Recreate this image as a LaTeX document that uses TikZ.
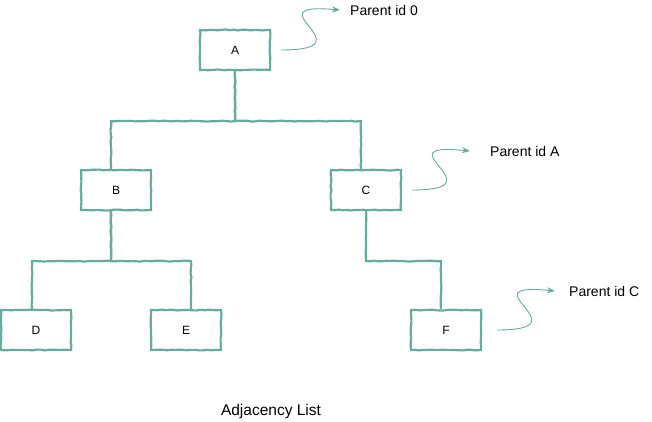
\documentclass[tikz,border=0pt]{standalone}
\usepackage{fontspec}
\setmainfont{Liberation Sans}
\usetikzlibrary{arrows.meta,decorations.pathmorphing}
\definecolor{teal}{HTML}{67AB9F}
\tikzset{
  sketch/.style={decorate, decoration={random steps, segment length=4pt, amplitude=0.45pt}},
  box/.style={draw=teal, line width=2.2pt, sketch, minimum width=70pt, minimum height=40pt, inner sep=0pt, font=\fontsize{12}{14}\selectfont},
  tree/.style={draw=teal, line width=2.2pt, sketch},
  curl/.style={draw=teal, line width=0.9pt, -{Stealth[length=8pt, width=6pt]}},
  lbl/.style={anchor=west, inner sep=0pt, font=\fontsize{14}{16}\selectfont}
}
\begin{document}
\begin{tikzpicture}[x=1pt, y=-1pt]
\pgfmathsetseed{7}
\useasboundingbox (0,0) rectangle (652,421);
\foreach \n/\x/\y in {A/235/50, B/116/190, C/366/190, D/36/330, E/186/330, F/446/330}
    \node[box] (\n) at (\x,\y) {\n};
% tree edges
\draw[tree] (A.south) -- ++(0,50) -| ([xshift=-5pt]B.north);
\draw[tree] (A.south) -- ++(0,50) -| ([xshift=-5pt]C.north);
\draw[tree] ([xshift=-5pt]B.south) -- ++(0,50) -| ([xshift=-4pt]D.north);
\draw[tree] ([xshift=-5pt]B.south) -- ++(0,50) -| ([xshift=5pt]E.north);
\draw[tree] (C.south) -- ++(0,50) -| ([xshift=-5pt]F.north);
% parent labels
\node[lbl] (pa0) at (350,10) {Parent id 0};
\node[lbl] (paA) at (490,151) {Parent id A};
\node[lbl] (paC) at (569,291) {Parent id C};
\draw[curl] ([xshift=10pt]A.east) .. controls (372,50) and (248,2) .. ([xshift=-10pt]pa0.west);
\draw[curl] ([xshift=10pt]C.east) .. controls (502,190) and (378,142) .. ([xshift=-20pt]paA.west);
\draw[curl] ([xshift=15pt]F.east) .. controls (587,330) and (463,282) .. ([xshift=-14pt]paC.west);
\node[font=\fontsize{15.5}{18}\selectfont] (title) at (271,411) {Adjacency List};
\end{tikzpicture}
\end{document}
